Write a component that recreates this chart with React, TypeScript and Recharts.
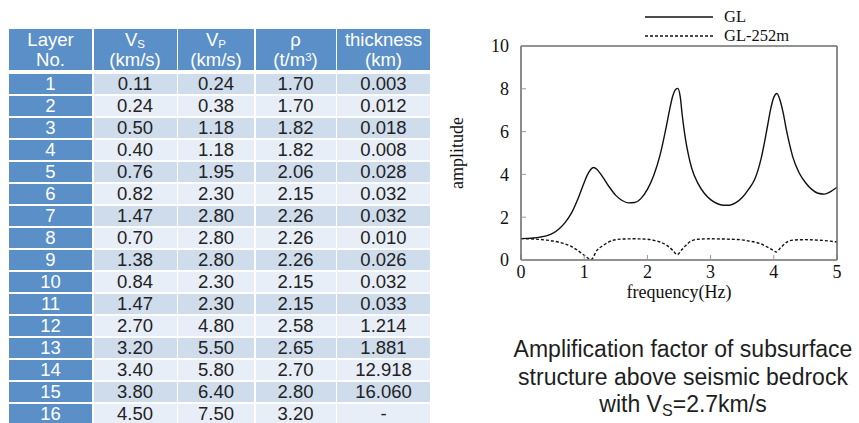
import React from 'react';
import { LineChart, Line, XAxis, YAxis, Legend } from 'recharts';

// ---------- table data ----------
const layerNo = ['1', '2', '3', '4', '5', '6', '7', '8', '9', '10', '11', '12', '13', '14', '15', '16'];
const vs = ['0.11', '0.24', '0.50', '0.40', '0.76', '0.82', '1.47', '0.70', '1.38', '0.84', '1.47', '2.70', '3.20', '3.40', '3.80', '4.50'];
const vp = ['0.24', '0.38', '1.18', '1.18', '1.95', '2.30', '2.80', '2.80', '2.80', '2.30', '2.30', '4.80', '5.50', '5.80', '6.40', '7.50'];
const rho = ['1.70', '1.70', '1.82', '1.82', '2.06', '2.15', '2.26', '2.26', '2.26', '2.15', '2.15', '2.58', '2.65', '2.70', '2.80', '3.20'];
const thickness = ['0.003', '0.012', '0.018', '0.008', '0.028', '0.032', '0.032', '0.010', '0.026', '0.032', '0.033', '1.214', '1.881', '12.918', '16.060', '-'];

// ---------- chart data ----------
const freqGL = [0, 0.1, 0.2, 0.3, 0.4, 0.5, 0.6, 0.7, 0.8, 0.9, 1.0, 1.05, 1.1, 1.15, 1.2, 1.25, 1.3, 1.4, 1.5, 1.6, 1.7, 1.8, 1.9, 2.0, 2.1, 2.2, 2.3, 2.35, 2.4, 2.45, 2.48, 2.52, 2.55, 2.6, 2.65, 2.7, 2.8, 2.9, 3.0, 3.1, 3.2, 3.3, 3.4, 3.5, 3.6, 3.7, 3.8, 3.9, 3.95, 4.0, 4.05, 4.1, 4.15, 4.2, 4.25, 4.3, 4.4, 4.5, 4.6, 4.7, 4.8, 4.9, 5.0];
const ampGL = [1.0, 1.01, 1.03, 1.07, 1.13, 1.24, 1.45, 1.76, 2.2, 2.85, 3.62, 3.98, 4.22, 4.32, 4.24, 4.06, 3.85, 3.4, 3.02, 2.78, 2.67, 2.69, 2.88, 3.3, 3.95, 4.9, 6.25, 7.0, 7.65, 7.98, 8.02, 7.62, 6.8, 5.7, 4.9, 4.3, 3.58, 3.12, 2.82, 2.64, 2.56, 2.56, 2.68, 2.92, 3.3, 3.78, 4.75, 6.25, 7.05, 7.6, 7.78, 7.45, 6.85, 6.07, 5.4, 4.82, 4.08, 3.62, 3.3, 3.12, 3.08, 3.2, 3.4];

const freqDeep = [0, 0.2, 0.4, 0.5, 0.6, 0.7, 0.8, 0.9, 1.0, 1.11, 1.2, 1.3, 1.4, 1.5, 1.6, 1.8, 2.0, 2.1, 2.2, 2.3, 2.4, 2.47, 2.55, 2.6, 2.7, 2.8, 3.0, 3.2, 3.4, 3.5, 3.6, 3.7, 3.8, 3.9, 4.0, 4.04, 4.1, 4.2, 4.3, 4.5, 4.7, 4.9, 5.0];
const ampDeep = [1.0, 0.98, 0.93, 0.89, 0.83, 0.75, 0.62, 0.44, 0.22, 0.02, 0.45, 0.68, 0.86, 0.95, 0.98, 0.99, 0.97, 0.92, 0.84, 0.7, 0.46, 0.25, 0.5, 0.66, 0.9, 0.97, 0.99, 0.98, 0.96, 0.94, 0.89, 0.84, 0.75, 0.6, 0.44, 0.37, 0.55, 0.82, 0.93, 0.95, 0.93, 0.88, 0.84];

const xTicks = [0, 1, 2, 3, 4, 5];
const yTicks = [0, 2, 4, 6, 8, 10];

const glData = freqGL.map((f, i) => ({ f, amp: ampGL[i] }));
const deepData = freqDeep.map((f, i) => ({ f, amp: ampDeep[i] }));

const BLUE = '#5b8fc8';
const ROW_DARK = '#cfdcec';
const ROW_LIGHT = '#e8eef7';
const SANS = '"Liberation Sans", Arial, sans-serif';
const SERIF = '"Liberation Serif", "Times New Roman", serif';

const colWidths = [83, 83, 76, 80, 93];

const subStyle: React.CSSProperties = { fontSize: '0.62em', verticalAlign: '-0.2em', lineHeight: 0 };

const Table = () => {
  const headers: React.ReactNode[] = [
    <>Layer<br />No.</>,
    <>V<sub style={subStyle}>S</sub><br />(km/s)</>,
    <>V<sub style={subStyle}>P</sub><br />(km/s)</>,
    <>ρ<br />(t/m<sup style={{ fontSize: '0.62em', verticalAlign: '0.45em', lineHeight: 0 }}>3</sup>)</>,
    <>thickness<br />(km)</>,
  ];
  return (
    <div style={{ position: 'absolute', left: 9, top: 29, fontFamily: SANS }}>
      <div style={{ display: 'flex', gap: 1.5 }}>
        {headers.map((h, i) => (
          <div
            key={i}
            style={{
              width: colWidths[i],
              height: 41,
              background: BLUE,
              color: '#fff',
              display: 'flex',
              alignItems: 'center',
              justifyContent: 'center',
              textAlign: 'center',
              lineHeight: '20px',
              fontSize: 18.5,
            }}
          >
            <div>{h}</div>
          </div>
        ))}
      </div>
      <div style={{ height: 4 }} />
      {layerNo.map((n, r) => {
        const bg = r % 2 === 0 ? ROW_DARK : ROW_LIGHT;
        const vals = [vs[r], vp[r], rho[r], thickness[r]];
        return (
          <div key={n} style={{ display: 'flex', gap: 1.5, marginBottom: 2 }}>
            <div
              style={{
                width: colWidths[0],
                height: 20,
                background: BLUE,
                color: '#fff',
                fontSize: 18.5,
                lineHeight: '20px',
                textAlign: 'center',
              }}
            >
              {n}
            </div>
            {vals.map((v, c) => (
              <div
                key={c}
                style={{
                  width: colWidths[c + 1],
                  height: 20,
                  background: bg,
                  color: '#222',
                  fontSize: 18.5,
                  lineHeight: '20px',
                  textAlign: 'center',
                }}
              >
                {v}
              </div>
            ))}
          </div>
        );
      })}
    </div>
  );
};

const LegendContent = (props: any) => {
  const payload = props.payload || [];
  return (
    <div style={{ fontFamily: SERIF, fontSize: 16.5, color: '#111' }}>
      {payload.map((p: any, i: number) => {
        const dash = p?.payload?.strokeDasharray;
        return (
          <div key={i} style={{ display: 'flex', alignItems: 'center', height: 19 }}>
            <svg width={68} height={4} style={{ display: 'block' }}>
              <line x1={0} y1={2} x2={68} y2={2} stroke="#111" strokeWidth={1.3} strokeDasharray={dash} />
            </svg>
            <span style={{ marginLeft: 11, lineHeight: '19px' }}>{p.value}</span>
          </div>
        );
      })}
    </div>
  );
};

const tickStyle = { fill: '#111', fontSize: 18, fontFamily: SERIF };

const Chart = () => (
  <div style={{ position: 'absolute', left: 440, top: 0 }}>
    <LineChart width={419} height={320} margin={{ top: 45, right: 21, bottom: 20, left: 0 }}>
      <XAxis
        xAxisId="b"
        dataKey="f"
        type="number"
        domain={[0, 5]}
        ticks={xTicks}
        interval={0}
        height={40}
        tickSize={-5}
        tickMargin={10.5}
        axisLine={{ stroke: '#6e6e6e', strokeWidth: 1.6 }}
        tickLine={{ stroke: '#999' }}
        tick={tickStyle}
        allowDataOverflow
        label={{ value: 'frequency(Hz)', position: 'insideBottom', offset: 2, fill: '#111', fontSize: 18, fontFamily: SERIF }}
      />
      <XAxis
        xAxisId="t"
        orientation="top"
        type="number"
        domain={[0, 5]}
        ticks={xTicks}
        interval={0}
        height={1}
        tickSize={-5}
        axisLine={{ stroke: '#6e6e6e', strokeWidth: 1.6 }}
        tickLine={{ stroke: '#999' }}
        tick={false}
        allowDataOverflow
      />
      <YAxis
        yAxisId="l"
        type="number"
        domain={[0, 10]}
        ticks={yTicks}
        interval={0}
        width={81}
        tickSize={-5}
        tickMargin={17}
        axisLine={{ stroke: '#6e6e6e', strokeWidth: 1.6 }}
        tickLine={{ stroke: '#999' }}
        tick={tickStyle}
        allowDataOverflow
        label={{
          value: 'amplitude',
          angle: -90,
          position: 'insideLeft',
          offset: 17,
          style: { textAnchor: 'middle' },
          fill: '#111',
          fontSize: 18,
          fontFamily: SERIF,
        }}
      />
      <YAxis
        yAxisId="r"
        orientation="right"
        type="number"
        domain={[0, 10]}
        ticks={yTicks}
        interval={0}
        width={1}
        tickSize={-5}
        axisLine={{ stroke: '#6e6e6e', strokeWidth: 1.6 }}
        tickLine={{ stroke: '#999' }}
        tick={false}
        allowDataOverflow
      />
      <Legend
        layout="vertical"
        align="center"
        verticalAlign="middle"
        content={<LegendContent />}
        wrapperStyle={{ top: 7, left: 205, width: 'auto' }}
      />
      <Line
        xAxisId="b"
        yAxisId="l"
        data={glData}
        dataKey="amp"
        name="GL"
        type="monotone"
        stroke="#111"
        strokeWidth={1.4}
        dot={false}
        activeDot={false}
        isAnimationActive={false}
      />
      <Line
        xAxisId="b"
        yAxisId="l"
        data={deepData}
        dataKey="amp"
        name="GL-252m"
        type="monotone"
        stroke="#111"
        strokeWidth={1.4}
        strokeDasharray="3 2"
        dot={false}
        activeDot={false}
        isAnimationActive={false}
      />
    </LineChart>
  </div>
);

const Caption = () => (
  <div
    style={{
      position: 'absolute',
      left: 483,
      top: 336,
      width: 400,
      textAlign: 'center',
      fontFamily: SANS,
      fontSize: 23,
      lineHeight: '27.5px',
      color: '#1e1e1e',
    }}
  >
    <div>Amplification factor of subsurface</div>
    <div>structure above seismic bedrock</div>
    <div>
      with V<sub style={{ fontSize: '0.7em', verticalAlign: '-0.25em', lineHeight: 0 }}>S</sub>=2.7km/s
    </div>
  </div>
);

export default function App() {
  return (
    <div style={{ position: 'relative', width: 859, height: 423, overflow: 'hidden', background: '#fff' }}>
      <style>{`body{margin:0;}`}</style>
      <Table />
      <Chart />
      <Caption />
    </div>
  );
}
